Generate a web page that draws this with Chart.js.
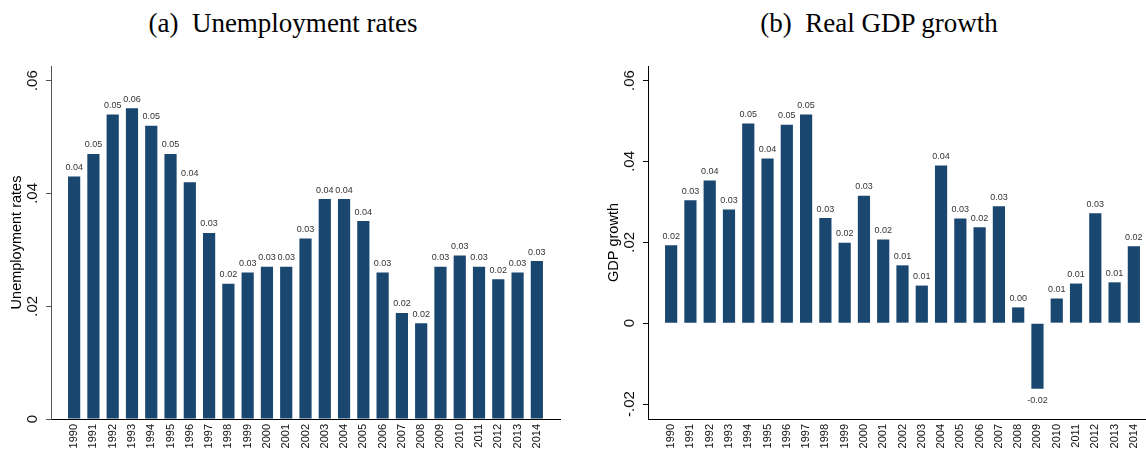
<!DOCTYPE html>
<html>
<head>
<meta charset="utf-8">
<script src="https://cdn.jsdelivr.net/npm/chart.js@4/dist/chart.umd.min.js"></script>
<style>
  html, body { margin: 0; padding: 0; background: #fff; overflow: hidden; }
  #wrap { position: relative; width: 1146px; height: 451px; overflow: hidden; background: #fff; }
  canvas { position: absolute; top: 0; }
  .panel-title {
    position: absolute; top: 10px;
    font-family: "Liberation Serif", "Times New Roman", serif;
    font-size: 27px; line-height: 27px; color: #000;
    white-space: pre; transform: translateX(-50%);
  }
</style>
</head>
<body>
<div id="wrap">
  <div class="panel-title" style="left:283px">(a)  Unemployment rates</div>
  <div class="panel-title" style="left:879px">(b)  Real GDP growth</div>
  <canvas id="unempChart" width="566" height="451" style="left:0"></canvas>
  <canvas id="gdpChart" width="566" height="451" style="left:597px"></canvas>
</div>
<script>
// Years on the horizontal axis
const years = [1990, 1991, 1992, 1993, 1994, 1995, 1996, 1997, 1998, 1999,
               2000, 2001, 2002, 2003, 2004, 2005, 2006, 2007, 2008, 2009,
               2010, 2011, 2012, 2013, 2014];

// Unemployment rate by year
const unemploymentRates = [0.043, 0.047, 0.054, 0.0551, 0.052, 0.047, 0.042, 0.033, 0.024, 0.026,
                           0.027, 0.027, 0.032, 0.039, 0.039, 0.0351, 0.026, 0.0188, 0.017, 0.027,
                           0.029, 0.027, 0.0248, 0.026, 0.028];

// Real GDP growth by year
const gdpGrowth = [0.0193, 0.0304, 0.0353, 0.0281, 0.0494, 0.0407, 0.0491, 0.0516, 0.026, 0.0199,
                   0.0315, 0.0207, 0.0143, 0.0093, 0.039, 0.0259, 0.0237, 0.0289, 0.0039, -0.0162,
                   0.0061, 0.0098, 0.0272, 0.0101, 0.019];

// Tick values on the vertical axes
const unempTicks = [0, 0.02, 0.04, 0.06];
const gdpTicks = [-0.02, 0, 0.02, 0.04, 0.06];

const SANS = '"Liberation Sans", Arial, sans-serif';
const BAR_COLOR = '#1a476f';

// ".06" / "-.02" / "0" style tick labels
function shortDecimal(v) {
  if (Math.abs(v) < 1e-12) return '0';
  const s = Math.abs(v).toFixed(2).replace(/^0/, '');
  return (v < 0 ? '-' : '') + s;
}

// Prints each bar's value just beyond its end
const barValueLabels = {
  id: 'barValueLabels',
  afterDatasetsDraw(chart) {
    const { ctx } = chart;
    const meta = chart.getDatasetMeta(0);
    const ds = chart.data.datasets[0];
    ctx.save();
    ctx.font = '9px ' + SANS;
    ctx.fillStyle = '#333';
    ctx.textAlign = 'center';
    ctx.textBaseline = 'alphabetic';
    meta.data.forEach((bar, i) => {
      const v = ds.data[i].y;
      const y = v >= 0 ? bar.y - 6.5 : bar.y + 14;
      ctx.fillText(v.toFixed(2), bar.x, y);
    });
    ctx.restore();
  }
};

function makeChart(id, values, yMin, yMax, yTicks, yTitle, tickPad, yAxisColor) {
  return new Chart(document.getElementById(id), {
    type: 'bar',
    data: {
      datasets: [{
        data: years.map((x, i) => ({ x: x, y: values[i] })),
        backgroundColor: BAR_COLOR,
        borderWidth: 0,
        categoryPercentage: 1,
        barPercentage: 0.633
      }]
    },
    options: {
      responsive: false,
      animation: false,
      devicePixelRatio: 1,
      layout: { padding: { left: 0, right: 6, top: 66, bottom: 0 } },
      plugins: {
        legend: { display: false },
        tooltip: { enabled: false },
        title: { display: false }
      },
      scales: {
        x: {
          type: 'linear',
          min: 1988.8,
          max: 2015.2,
          offset: false,
          afterBuildTicks: s => { s.ticks = years.map(v => ({ value: v })); },
          afterFit: s => { s.height = 32; },
          grid: { display: false, drawTicks: false },
          border: { display: true, color: '#000', width: 1 },
          ticks: {
            autoSkip: false,
            minRotation: 90,
            maxRotation: 90,
            padding: 5,
            color: '#111',
            font: { family: SANS, size: 11 },
            callback: v => String(v)
          }
        },
        y: {
          min: yMin,
          max: yMax,
          afterBuildTicks: s => { s.ticks = yTicks.map(v => ({ value: v })); },
          afterFit: s => { s.width = 51; },
          grid: { drawOnChartArea: false, drawTicks: true, tickLength: 5, color: yAxisColor },
          border: { display: true, color: yAxisColor, width: 1 },
          title: {
            display: true,
            text: yTitle,
            color: '#000',
            font: { family: SANS, size: 14.5 },
            padding: { top: 8.3, bottom: 0 }
          },
          ticks: {
            minRotation: 90,
            maxRotation: 90,
            crossAlign: 'center',
            padding: tickPad,
            color: '#111',
            font: { family: SANS, size: 15 },
            callback: v => shortDecimal(v)
          }
        }
      }
    },
    plugins: [barValueLabels]
  });
}

makeChart('unempChart', unemploymentRates, 0, 0.0626, unempTicks, 'Unemployment rates', 2.9, '#555');
makeChart('gdpChart', gdpGrowth, -0.0237, 0.0636, gdpTicks, 'GDP growth', 0, '#000');
</script>
</body>
</html>
